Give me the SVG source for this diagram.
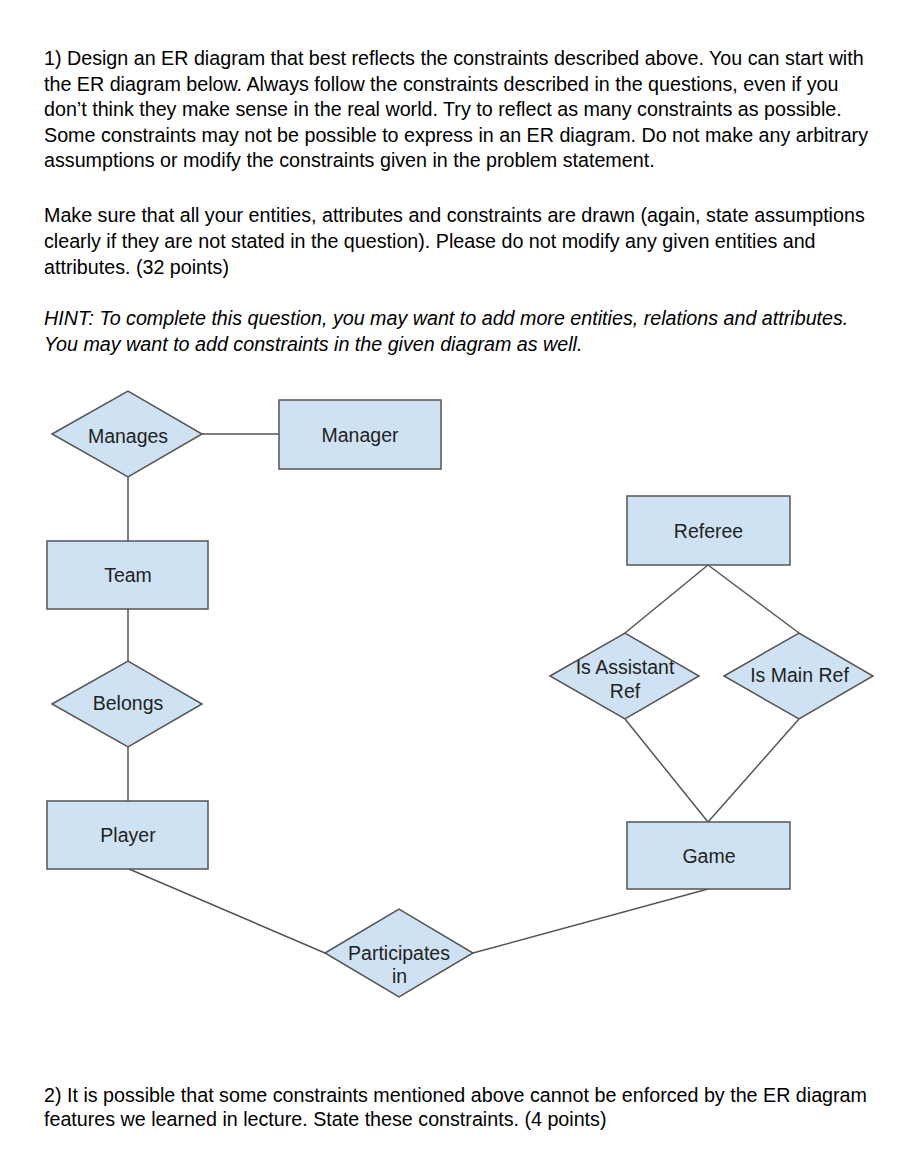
<svg xmlns="http://www.w3.org/2000/svg" width="902" height="1154" viewBox="0 0 902 1154">
<style>
.body{font-family:"Liberation Sans",Arial,sans-serif;font-size:19.7px;fill:#000}
.it{font-style:italic}
.ent,.rel{fill:#cfe2f3;stroke:#555;stroke-width:1.5}
.lbl{font-family:"Liberation Sans",Arial,sans-serif;font-size:19.5px;fill:#222;text-anchor:middle}
.con{stroke:#555;stroke-width:1.5;fill:none}
</style>
<rect width="902" height="1154" fill="#fff"/>
<g id="text-top">
<text class="body" x="44" y="65">1) Design an ER diagram that best reflects the constraints described above. You can start with</text>
<text class="body" x="44" y="90.5">the ER diagram below. Always follow the constraints described in the questions, even if you</text>
<text class="body" x="44" y="116">don’t think they make sense in the real world. Try to reflect as many constraints as possible.</text>
<text class="body" x="44" y="141.5">Some constraints may not be possible to express in an ER diagram. Do not make any arbitrary</text>
<text class="body" x="44" y="167">assumptions or modify the constraints given in the problem statement.</text>
<text class="body" x="44" y="222">Make sure that all your entities, attributes and constraints are drawn (again, state assumptions</text>
<text class="body" x="44" y="247.5">clearly if they are not stated in the question). Please do not modify any given entities and</text>
<text class="body" x="44" y="273.5">attributes. (32 points)</text>
<text class="body it" x="44" y="325">HINT: To complete this question, you may want to add more entities, relations and attributes.</text>
<text class="body it" x="44" y="350.5">You may want to add constraints in the given diagram as well.</text>
</g>
<g id="connectors">
<line class="con" x1="202" y1="434" x2="279" y2="434"/>
<line class="con" x1="128" y1="477" x2="128" y2="541"/>
<line class="con" x1="128" y1="609" x2="128" y2="661"/>
<line class="con" x1="128" y1="747" x2="128" y2="801"/>
<line class="con" x1="129" y1="869" x2="325" y2="953"/>
<line class="con" x1="473" y1="953" x2="708" y2="889"/>
<line class="con" x1="708" y1="565" x2="625" y2="633"/>
<line class="con" x1="708" y1="565" x2="799" y2="633"/>
<line class="con" x1="625" y1="719" x2="708" y2="822"/>
<line class="con" x1="799" y1="719" x2="708" y2="822"/>
</g>
<g id="manages"><polygon class="rel" points="52,434 128,391 202,434 128,477"/><text class="lbl" x="128" y="443">Manages</text></g>
<g id="manager"><rect class="ent" x="279" y="400" width="162" height="69"/><text class="lbl" x="360" y="442">Manager</text></g>
<g id="team"><rect class="ent" x="47" y="541" width="161" height="68"/><text class="lbl" x="128" y="582">Team</text></g>
<g id="belongs"><polygon class="rel" points="52,704 128,661 202,704 128,747"/><text class="lbl" x="128" y="710">Belongs</text></g>
<g id="player"><rect class="ent" x="47" y="801" width="161" height="68"/><text class="lbl" x="128" y="842">Player</text></g>
<g id="participates"><polygon class="rel" points="325,953 399,909 473,953 399,997"/><text class="lbl" x="399" y="960">Participates</text><text class="lbl" x="399.5" y="983">in</text></g>
<g id="referee"><rect class="ent" x="627" y="496" width="163" height="69"/><text class="lbl" x="708.5" y="538">Referee</text></g>
<g id="is-assistant-ref"><polygon class="rel" points="550,676 625,633 699,676 625,719"/><text class="lbl" x="625" y="674">Is Assistant</text><text class="lbl" x="625" y="698">Ref</text></g>
<g id="is-main-ref"><polygon class="rel" points="724,676 799,633 873,676 799,719"/><text class="lbl" x="799.5" y="682">Is Main Ref</text></g>
<g id="game"><rect class="ent" x="627" y="822" width="163" height="67"/><text class="lbl" x="709" y="863">Game</text></g>
<g id="text-bottom">
<text class="body" x="44" y="1101.5">2) It is possible that some constraints mentioned above cannot be enforced by the ER diagram</text>
<text class="body" x="44" y="1126">features we learned in lecture. State these constraints. (4 points)</text>
</g>
</svg>
